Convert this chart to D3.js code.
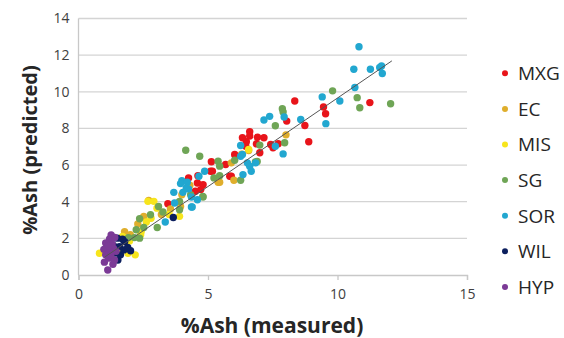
<!DOCTYPE html>
<html>
<head>
<meta charset="utf-8">
<script src="https://cdn.jsdelivr.net/npm/d3@7"></script>
<style>
  body { margin: 0; background: #fff; }
  svg { display: block; }
</style>
</head>
<body>
<script>
// series names + colours
var seriesNames = ['MXG', 'EC', 'MIS', 'SG', 'SOR', 'WIL', 'HYP'];
var seriesColors = ['#e8141a', '#dfae2c', '#f7e51c', '#6fa556', '#22a7d0', '#0c1f5e', '#7b3a96'];

// [measured, predicted]
var mxg = [[11.25,9.41],[8.35,9.5],[9.46,9.17],[9.54,8.8],[8.04,8.4],[8.74,8.16],[8.89,7.27],[6.61,7.82],[6.61,7.58],
  [6.91,7.52],[7.16,7.49],[6.48,7.27],[6.87,7.16],[7.42,7.12],[7.71,7.16],[7.51,6.94],[7.0,6.67],[6.33,7.49],[6.46,7.03],
  [6.03,6.58],[6.06,6.48],[5.13,6.18],[5.68,6.03],[5.1,5.66],[5.84,5.39],[4.61,5.42],[4.25,5.3],[4.59,5.02],[4.81,4.93],
  [4.51,4.57],[4.72,4.66],[3.45,3.89],[5.9,5.39],[5.17,5.66]];
var ec = [[8.01,7.65],[6.57,6.79],[5.9,6.12],[6.0,5.17],[5.39,5.06],[3.99,4.38],[3.94,3.74],[2.71,4.07],[2.52,3.19],
  [2.29,2.78],[1.78,2.37],[5.45,5.06],[4.3,4.9],[3.2,3.3],[2.0,2.2],[6.3,6.6],[3.55,3.6]];
var mis = [[2.68,4.02],[2.91,4.02],[2.62,2.89],[2.42,2.37],[1.97,1.86],[0.81,1.19],[1.91,1.19],[2.19,1.1],[3.03,3.65],
  [6.57,6.85],[1.5,1.3],[1.3,1.5],[2.4,2.2],[2.8,3.1],[3.5,3.3],[3.9,3.2],[1.7,2.1]];
var sg = [[9.81,10.05],[10.76,9.68],[10.86,9.13],[12.05,9.35],[7.87,9.08],[7.6,8.15],[7.96,7.22],[7.0,7.09],[6.83,6.17],
  [4.14,6.81],[4.68,6.48],[5.39,6.21],[5.45,5.94],[6.03,6.26],[6.26,5.17],[5.23,5.3],[4.33,4.38],[4.81,4.26],[3.9,4.02],
  [3.09,3.74],[3.26,3.44],[2.78,3.29],[2.36,3.07],[3.04,2.59],[2.52,2.59],[2.23,2.47],[2.16,2.04],[1.93,2.04],[2.36,2.01],
  [4.8,4.29],[3.9,3.56],[5.45,5.42],[6.9,6.2],[7.9,8.9]];
var sor = [[10.83,12.46],[10.63,11.23],[11.27,11.23],[11.7,11.41],[11.63,11.33],[11.73,11.0],[10.67,10.23],[10.09,9.5],
  [9.41,9.72],[9.55,8.26],[7.38,8.66],[7.16,8.46],[7.94,8.62],[8.58,8.49],[7.6,7.03],[7.9,6.61],[6.52,6.12],[6.26,7.07],
  [6.33,6.58],[6.26,6.48],[6.67,5.66],[6.35,5.48],[6.84,6.12],[4.87,5.66],[4.65,5.39],[3.99,5.15],[3.94,4.99],[4.2,5.06],
  [4.25,4.7],[3.68,4.51],[4.03,4.51],[4.36,4.26],[4.59,4.11],[4.36,3.71],[3.71,3.93],[3.35,2.89],[4.16,4.75],[4.39,3.71],
  [6.61,5.94]];
var wil = [[3.66,3.14],[1.5,2.01],[1.78,1.82],[1.52,0.82],[1.62,1.1],[1.75,1.37],[1.58,1.55],[2.01,1.32],[1.35,1.6],
  [1.7,1.95],[1.4,1.2],[1.9,1.5]];
var hyp = [[1.26,2.19],[1.2,1.97],[1.05,1.75],[1.3,1.7],[1.1,1.5],[1.35,1.45],[0.98,1.4],[1.2,1.3],[1.45,1.3],[1.05,1.1],
  [1.16,0.92],[1.39,0.82],[1.13,0.27],[1.33,0.59],[1.0,0.7],[1.25,1.1],[1.4,2.05],[1.15,1.6]];
var seriesData = [mxg, ec, mis, sg, sor, wil, hyp];

// linear trendline
var trendX = [1.0, 12.1];
var trendSlope = 0.966, trendIntercept = 0.0;

var xTicks = [0, 5, 10, 15];
var yTicks = [0, 2, 4, 6, 8, 10, 12, 14];

var W = 564, H = 338;
var svg = d3.select('body').append('svg').attr('width', W).attr('height', H);

var x = d3.scaleLinear().domain([0, 15]).range([78.5, 467]);
var y = d3.scaleLinear().domain([0, 14]).range([275, 18.5]);

// gridlines
svg.append('g').selectAll('line').data(yTicks.slice(1)).enter().append('line')
  .attr('x1', x(0)).attr('x2', x(15))
  .attr('y1', function(d) { return y(d); }).attr('y2', function(d) { return y(d); })
  .attr('stroke', '#d4d4d4').attr('stroke-width', 1.3);

// axes
var xAxis = svg.append('g').attr('transform', 'translate(0,' + y(0) + ')')
  .call(d3.axisBottom(x).tickValues(xTicks).tickSize(5).tickPadding(9));
var yAxis = svg.append('g').attr('transform', 'translate(' + x(0) + ',0)')
  .call(d3.axisLeft(y).tickValues(yTicks).tickSize(0).tickPadding(9));
[xAxis, yAxis].forEach(function(a) {
  a.select('.domain').attr('stroke', '#c8c8c8').attr('stroke-width', 1.3);
  a.selectAll('.tick line').attr('stroke', '#c8c8c8').attr('stroke-width', 1.3);
  a.selectAll('.tick text').attr('fill', '#404040')
    .style('font-family', '"Open Sans", sans-serif').style('font-size', '14px');
});
yAxis.select('.domain').attr('d', 'M0,' + y(14) + 'V' + y(0));

// points
seriesData.forEach(function(pts, i) {
  svg.append('g').selectAll('circle').data(pts).enter().append('circle')
    .attr('cx', function(d) { return x(d[0]); })
    .attr('cy', function(d) { return y(d[1]); })
    .attr('r', 3.7)
    .attr('fill', seriesColors[i]);
});

// trendline
svg.append('line')
  .attr('x1', x(trendX[0])).attr('y1', y(trendSlope * trendX[0] + trendIntercept))
  .attr('x2', x(trendX[1])).attr('y2', y(trendSlope * trendX[1] + trendIntercept))
  .attr('stroke', '#555').attr('stroke-width', 1);

// axis titles
svg.append('text').text('%Ash (measured)')
  .attr('x', 272).attr('y', 333).attr('text-anchor', 'middle')
  .attr('fill', '#262626').style('font-family', '"Open Sans", sans-serif')
  .style('font-size', '21px').style('font-weight', 'bold');
svg.append('text').text('%Ash (predicted)')
  .attr('transform', 'translate(37,150) rotate(-90)').attr('text-anchor', 'middle')
  .attr('fill', '#262626').style('font-family', '"Open Sans", sans-serif')
  .style('font-size', '20px').style('font-weight', 'bold');

// legend
var leg = svg.append('g').selectAll('g').data(seriesNames).enter().append('g')
  .attr('transform', function(d, i) { return 'translate(505,' + (73.3 + i * 35.6) + ')'; });
leg.append('circle').attr('r', 3).attr('fill', function(d, i) { return seriesColors[i]; });
leg.append('text').text(function(d) { return d; })
  .attr('x', 13).attr('dy', '0.36em')
  .attr('fill', '#262626').style('font-family', '"Open Sans", sans-serif').style('font-size', '19px');
</script>
</body>
</html>
